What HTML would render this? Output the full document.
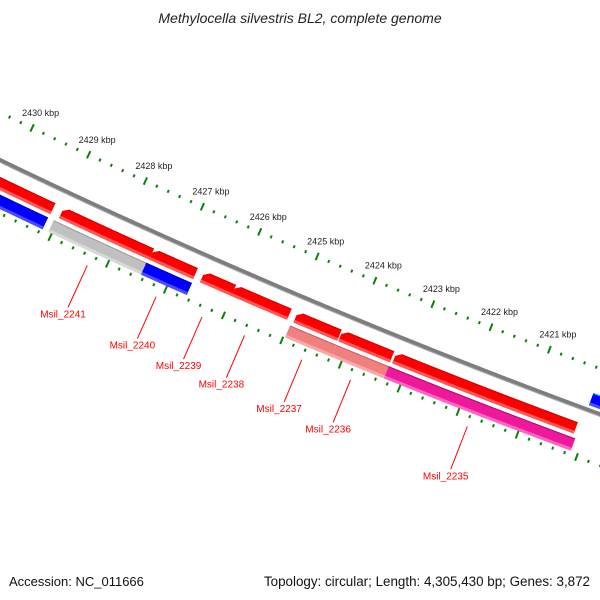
<!DOCTYPE html>
<html><head><meta charset="utf-8"><style>
html,body{margin:0;padding:0;background:#fff}
svg{display:block}
text{font-family:"Liberation Sans",sans-serif}
</style></head><body>
<svg id="map" width="600" height="600" viewBox="0 0 600 600">
<text x="300" y="23" text-anchor="middle" font-size="14" font-style="italic" fill="#222">Methylocella silvestris BL2, complete genome</text>
<g id="backbone-g"></g>
<g id="features-g"></g>
<g id="ticks-g"></g>
<g id="labels-g"></g>
<text x="9" y="586" font-size="13" fill="#111">Accession: NC_011666</text>
<text x="590" y="586" text-anchor="end" font-size="13.4" fill="#111">Topology: circular; Length: 4,305,430 bp; Genes: 3,872</text>
</svg>
<script>
// data (kbp)
const fwdStart = [2431.0, 2429.0, 2427.43, 2426.55, 2426.01, 2424.94, 2424.17, 2423.25];
const fwdEnd   = [2429.15, 2427.43, 2426.67, 2426.01, 2425.05, 2424.19, 2423.29, 2420.17];
const revStart = [2431.0, 2429.06, 2427.45, 2424.97, 2424.18, 2423.28];
const revEnd   = [2429.16, 2427.42, 2426.66, 2424.18, 2423.23, 2420.12];
const revColor = ["#0000ff", "#c0c0c0", "#0000ff", "#f08080", "#f08080", "#f0189a"];
const outStart = [2420.1];
const outEnd = [2418.8];
const tickValues = [2419, 2420, 2421, 2422, 2423, 2424, 2425, 2426, 2427, 2428, 2429, 2430, 2431, 2432];
const tickLabels = [2421, 2422, 2423, 2424, 2425, 2426, 2427, 2428, 2429, 2430];
const geneNames = ["Msil_2241", "Msil_2240", "Msil_2239", "Msil_2238", "Msil_2237", "Msil_2236", "Msil_2235"];
const genePos = [2428.28, 2427.09, 2426.30, 2425.57, 2424.59, 2423.76, 2421.78];

const CX = 2903, CY = -5856;
const NS = "http://www.w3.org/2000/svg";
function ang(k){ return (110.77 + (k - 2421) * 0.54) * Math.PI / 180; }
function pt(k, r){ const a = ang(k); return [CX + r * Math.cos(a), CY + r * Math.sin(a)]; }
function arcPts(k1, k2, r){ const out = []; const n = Math.max(2, Math.ceil(Math.abs(k1 - k2) / 0.02)); for (let i = 0; i <= n; i++){ out.push(pt(k1 + (k2 - k1) * i / n, r)); } return out; }
function fmt(p){ return p.map(q => q[0].toFixed(2) + "," + q[1].toFixed(2)).join(" "); }
function mk(tag, attrs, parent){ const el = document.createElementNS(NS, tag); for (const k in attrs) el.setAttribute(k, attrs[k]); parent.appendChild(el); return el; }

// backbone
const bb = document.getElementById("backbone-g");
let line = mk("polyline", {points: fmt(arcPts(2432, 2418.5, 6680)), fill: "none", stroke: "#7d7d7d", "stroke-width": 4.5}, bb);


line = mk("polyline", {points: fmt(arcPts(2432, 2418.5, 6681.8)), fill: "none", stroke: "#a8a8a8", "stroke-width": 1}, bb);



function bar(s, e, r0, r1, main, light, dark, arrow, name){
  const g = document.getElementById("features-g");
  let pts;
  if (arrow){
    pts = arcPts(s - 0.09, e, r0).concat(arcPts(e, s, r1)).concat([pt(s, r0 + 4)]);
  } else {
    pts = arcPts(s, e, r0).concat(arcPts(e, s, r1));
  }
  const p = mk("polygon", {points: fmt(pts), fill: main}, g);
  
  
  const sh = mk("polygon", {points: fmt(arcPts(s, e, r1 - 3).concat(arcPts(e, s, r1))), fill: light}, g);
  
  
  const tp = mk("polyline", {points: fmt(arcPts(arrow ? s - 0.09 : s, e, r0 + 0.5)), fill: "none", stroke: dark, "stroke-width": 1}, g);
  
  
}
const lightOf = {"#ff0000": "#ff5555", "#0000ff": "#4a4aff", "#c0c0c0": "#d8d8d8", "#f08080": "#f8a8a8", "#f0189a": "#ff66c4"};
const darkOf = {"#ff0000": "#d00000", "#0000ff": "#0000c0", "#c0c0c0": "#9a9a9a", "#f08080": "#c86060", "#f0189a": "#a8106a"};
for (let i = 0; i < fwdStart.length; i++) bar(fwdStart[i], fwdEnd[i], 6695, 6707, "#ff0000", lightOf["#ff0000"], darkOf["#ff0000"], true, "forward-gene-" + i);
for (let i = 0; i < revStart.length; i++) bar(revStart[i], revEnd[i], 6711, 6724, revColor[i], lightOf[revColor[i]], darkOf[revColor[i]], false, "reverse-gene-" + i);
for (let i = 0; i < outStart.length; i++) bar(outStart[i], outEnd[i], 6662, 6675, "#0000ff", "#4a4aff", "#00e0ff", false, "outer-gene-" + i);

// ticks
const tg = document.getElementById("ticks-g");
for (let t = 0; t <= (tickValues[tickValues.length-1] - tickValues[0]) * 5; t++){
  const k = tickValues[0] + t * 0.2;
  const major = t % 5 === 0;
  [[6637, major ? 4 : 1.5], [6728, major ? 4 : 1.5]].forEach(([r, h], j) => {
    const a = pt(k, r - h), b = pt(k, r + h);
    const l = mk("line", {x1: a[0], y1: a[1], x2: b[0], y2: b[1], stroke: "#0a800a", "stroke-width": 2}, tg);
    
    
  });
}
for (let i = 0; i < tickLabels.length; i++){
  const p = pt(tickLabels[i], 6637);
  const tx = mk("text", {x: p[0] - 10, y: p[1] - 12, "font-size": 9, fill: "#222"}, tg);
  tx.textContent = tickLabels[i] + " kbp";
  
  
}

// gene labels
const lg = document.getElementById("labels-g");
for (let i = 0; i < geneNames.length; i++){
  const a = pt(genePos[i], 6738), b = pt(genePos[i], 6784);
  const l = mk("line", {x1: a[0], y1: a[1], x2: b[0], y2: b[1], stroke: "#ff0000", "stroke-width": 1}, lg);
  
  
  const tx = mk("text", {x: b[0] - 5, y: b[1] + 10, "font-size": 10, fill: "#ff0000", "text-anchor": "middle"}, lg);
  tx.textContent = geneNames[i];
  
  
}
</script>
</body></html>
